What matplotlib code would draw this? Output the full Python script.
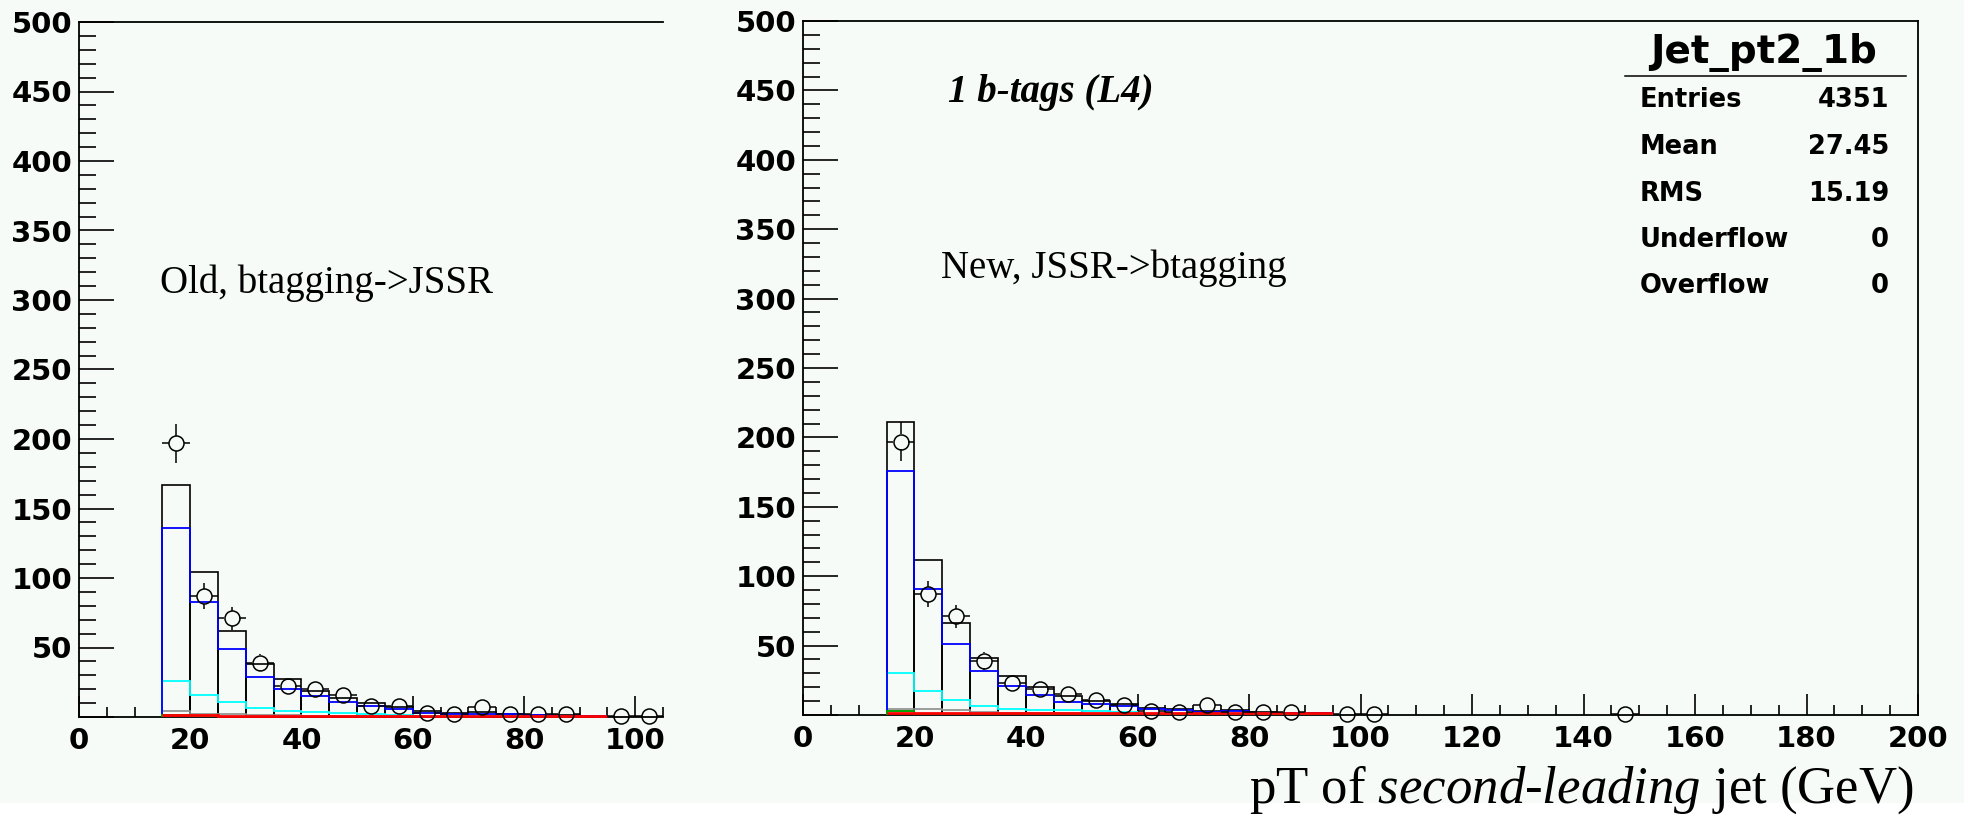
import numpy as np
import matplotlib
matplotlib.use("Agg")
import matplotlib.pyplot as plt
from matplotlib.ticker import MultipleLocator, FixedLocator, FuncFormatter
from matplotlib.patches import Rectangle

# lower edges of the 5 GeV template bins
mc_lo = [15, 20, 25, 30, 35, 40, 45, 50, 55, 60, 65, 70, 75, 80, 85, 90]

# old ordering (btagging -> JSSR)
old_total = [167, 104, 62, 38, 27, 19, 14, 10, 7, 4, 3, 3.5, 2.5, 1.5, 1.3, 1.0]
old_blue = [136, 83, 49, 29, 20, 15, 11, 8, 6, 3.2, 2.5, 2.5, 2.0, 1.2, 1.0, 0.8]
old_cyan = [26, 16, 11, 6.5, 4.3, 3.6, 3.0, 2.4, 1.5, 0.8, 0.6, 0.5, 0.4, 0.3, 0.2, 0.2]
old_gray = [4, 2.5, 2, 1.5, 1.2, 1.0, 0.8, 0.6, 0.5, 0.4, 0.3, 0.3, 0.2, 0.2, 0.2, 0.1]
old_green = [1.5, 0.5, 0.3, 0.2, 0.1, 0.1, 0.1, 0.1, 0, 0, 0, 0, 0, 0, 0, 0]
old_red = [1.1, 1.1, 1.0, 1.0, 1.0, 0.9, 0.9, 0.9, 0.9, 0.9, 0.9, 0.9, 0.9, 0.9, 0.9, 0.9]
old_data_x = [17.5, 22.5, 27.5, 32.5, 37.5, 42.5, 47.5, 52.5, 57.5, 62.5, 67.5,
              72.5, 77.5, 82.5, 87.5, 97.5, 102.5]
old_data_n = [197, 87, 71, 39, 22, 20, 16, 8, 8, 3, 2, 7, 2, 2, 2, 1, 1]

# new ordering (JSSR -> btagging)
new_total = [211, 112, 66, 41, 28, 20, 14, 10, 8, 5, 4, 3, 3.5, 2, 1.8, 1.5]
new_blue = [176, 91, 51, 31.6, 21, 14.5, 9.5, 8, 6.6, 4.3, 3.6, 2.5, 3, 1.5, 1.3, 1.1]
new_cyan = [30, 17, 10.8, 6.5, 4.5, 3.8, 3.3, 2.8, 2.0, 1.0, 0.7, 0.5, 0.4, 0.3, 0.2, 0.2]
new_gray = [4, 4, 3.5, 2.5, 1.8, 1.4, 1.1, 0.9, 0.7, 0.5, 0.4, 0.3, 0.3, 0.2, 0.2, 0.2]
new_green = [3, 0.6, 0.3, 0.2, 0.1, 0.1, 0.1, 0, 0, 0, 0, 0, 0, 0, 0, 0]
new_red = [1.3, 1.3, 1.2, 1.2, 1.2, 1.2, 1.2, 1.2, 1.2, 1.2, 1.2, 1.2, 1.2, 1.2, 1.2, 1.2]
new_data_x = [17.5, 22.5, 27.5, 32.5, 37.5, 42.5, 47.5, 52.5, 57.5, 62.5, 67.5,
              72.5, 77.5, 82.5, 87.5, 97.5, 102.5, 147.5]
new_data_n = [197, 87, 71, 39, 23, 19, 15, 11, 7, 3, 2, 7, 2, 2, 2, 1, 1, 1]

stats_title = "Jet_pt2_1b"
stats_names = ["Entries", "Mean", "RMS", "Underflow", "Overflow"]
stats_vals = ["4351", "27.45", "15.19", "0", "0"]

W, H = 1965, 815
BG = "#f6fbf8"
YMAX = 500

plt.rcParams["font.family"] = "DejaVu Sans"
plt.rcParams["font.weight"] = "bold"
plt.rcParams["mathtext.fontset"] = "custom"
plt.rcParams["mathtext.rm"] = "Liberation Serif:style=normal:weight=normal"
plt.rcParams["mathtext.it"] = "Liberation Serif:style=italic:weight=normal"


def fx(px):
    return px / W


def fy(py):
    return 1 - py / H


def draw_panel(ax, xmax, total, blue, cyan, gray, green, red, dx, dn):
    ax.set_facecolor(BG)
    ax.set_xlim(0, xmax)
    ax.set_ylim(0, YMAX)
    edges = list(mc_lo) + [mc_lo[-1] + 5]

    ax.bar(mc_lo, total, width=5, align="edge", fill=False,
           edgecolor="black", linewidth=1.2, zorder=2)
    ax.stairs(gray, edges, color="#8c8c8c", linewidth=1.2, zorder=3)
    ax.stairs(cyan, edges, color="#00ffff", linewidth=1.3, zorder=3)
    ax.stairs(blue, edges, color="#0000ff", linewidth=1.3, zorder=4)
    ax.stairs(green, edges, color="#00a000", linewidth=1.4, zorder=4)
    ax.stairs(red, edges, color="#ff0000", linewidth=2.0, zorder=5,
              baseline=None, clip_on=False)

    # data points: open circles, error bars stop at the marker edge
    r = 7.5
    bb = ax.get_position()
    rx = r * xmax / (bb.width * W)
    ry = r * YMAX / (bb.height * H)
    xs = np.array(dx, float)
    ns = np.array(dn, float)
    err = np.sqrt(ns)
    big = err > ry
    kw = dict(color="black", linewidth=1.1, zorder=6, clip_on=False)
    ax.vlines(xs[big], ns[big] + ry, ns[big] + err[big], **kw)
    ax.vlines(xs[big], ns[big] - err[big], ns[big] - ry, **kw)
    ax.hlines(ns, xs - 2.5, xs - rx, **kw)
    ax.hlines(ns, xs + rx, xs + 2.5, **kw)
    ax.plot(xs, ns, "o", mfc="none", mec="black", ms=2 * r * 0.72, mew=1.1,
            zorder=7, clip_on=False)

    ax.xaxis.set_major_locator(MultipleLocator(20))
    ax.xaxis.set_minor_locator(MultipleLocator(5))
    ax.yaxis.set_major_locator(FixedLocator(range(0, YMAX + 1, 50)))
    ax.yaxis.set_minor_locator(MultipleLocator(10))
    ax.yaxis.set_major_formatter(FuncFormatter(lambda v, p: "" if v == 0 else "%d" % v))
    ax.tick_params(axis="y", which="major", direction="in", length=25, width=1.2,
                   pad=5, labelsize=21)
    ax.tick_params(axis="y", which="minor", direction="in", length=12, width=1.2)
    ax.tick_params(axis="x", which="major", direction="in", length=15, width=1.2,
                   pad=7, labelsize=21)
    ax.tick_params(axis="x", which="minor", direction="in", length=7.5, width=1.2)
    for s in ax.spines.values():
        s.set_linewidth(1.3)


fig = plt.figure(figsize=(W / 100, H / 100), dpi=100)
fig.patch.set_facecolor(BG)
fig.patches.append(Rectangle((0, 0), 1, 12 / H, transform=fig.transFigure,
                             facecolor="white", edgecolor="none", zorder=0))

ax1 = fig.add_axes([fx(79), fy(717), fx(663) - fx(79), fy(22) - fy(717)])
ax2 = fig.add_axes([fx(803), fy(715), fx(1918) - fx(803), fy(21) - fy(715)])

draw_panel(ax1, 105, old_total, old_blue, old_cyan, old_gray, old_green, old_red,
           old_data_x, old_data_n)
draw_panel(ax2, 200, new_total, new_blue, new_cyan, new_gray, new_green, new_red,
           new_data_x, new_data_n)
ax1.spines["right"].set_visible(False)

serif = dict(family="Liberation Serif", weight="normal", size=28, va="baseline")
fig.text(fx(160), fy(293), "Old, btagging->JSSR", **serif)
fig.text(fx(941), fy(278), "New, JSSR->btagging", **serif)
fig.text(fx(948), fy(102), "1 b-tags (L4)", family="Liberation Serif",
         weight="bold", style="italic", size=28, va="baseline")

# stats box
fig.text(fx(1764), fy(63), stats_title, size=28, ha="center", va="baseline")
fig.add_artist(plt.Line2D([fx(1625), fx(1906)], [fy(76), fy(76)],
                          color="black", linewidth=1.1))
row_y = [107, 154, 201, 247, 293]
for name, val, yy in zip(stats_names, stats_vals, row_y):
    fig.text(fx(1640), fy(yy), name, size=18.5, ha="left", va="baseline")
    fig.text(fx(1889), fy(yy), val, size=18.5, ha="right", va="baseline")

fig.text(fx(1914), fy(803), r"pT of $\mathit{second}$-$\mathit{leading}$ jet (GeV)",
         family="Liberation Serif", weight="normal", size=38,
         ha="right", va="baseline")

fig.savefig("out.png", dpi=100, facecolor=BG)
